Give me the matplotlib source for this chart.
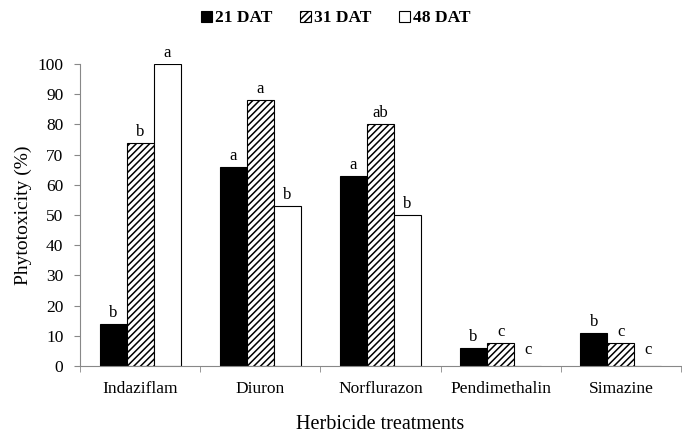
import numpy as np
import matplotlib
matplotlib.use('Agg')
import matplotlib.pyplot as plt

plt.rcParams['font.family'] = ['Liberation Serif', 'DejaVu Serif']
plt.rcParams['hatch.linewidth'] = 1.1

treatments = ['Indaziflam', 'Diuron', 'Norflurazon', 'Pendimethalin', 'Simazine']
dat21 = [14, 66, 63, 6, 11]
dat31 = [74, 88, 80, 7.5, 7.5]
dat48 = [100, 53, 50, 0, 0]
letters21 = ['b', 'a', 'a', 'b', 'b']
letters31 = ['b', 'a', 'ab', 'c', 'c']
letters48 = ['a', 'b', 'b', 'c', 'c']

fig = plt.figure(figsize=(6.82, 4.33), dpi=100)
ax = fig.add_axes([80 / 682, 67 / 433, 601 / 682, 302 / 433])

x = np.arange(len(treatments))
w = 0.225
series = [
    (dat21, letters21, dict(color='black', edgecolor='black'), '21 DAT'),
    (dat31, letters31, dict(color='white', edgecolor='black', hatch='/////'), '31 DAT'),
    (dat48, letters48, dict(color='white', edgecolor='black'), '48 DAT'),
]
for i, (vals, lets, style, lab) in enumerate(series):
    pos = x + (i - 1) * w
    ax.bar(pos, vals, w, linewidth=0.8, label=lab, **style)
    for p, v, l in zip(pos, vals, lets):
        off = 3 if v > 0 else 8
        ax.annotate(l, (p, v), xytext=(0, off / 1.39), textcoords='offset points',
                    ha='center', va='bottom', fontsize=12)

ax.set_xlim(-0.5, len(treatments) - 0.5)
ax.set_ylim(0, 100)
ax.set_yticks(range(0, 101, 10))
ax.set_xticks(x)
ax.set_xticklabels(treatments, fontsize=12.5)
ax.set_xticks(np.arange(-0.5, len(treatments)), minor=True)
ax.tick_params(axis='x', which='major', length=0, pad=11)
ax.tick_params(axis='x', which='minor', length=4, color='#888888')
ax.tick_params(axis='y', labelsize=12.5, length=4, pad=8, color='#888888')
for s in ['top', 'right']:
    ax.spines[s].set_visible(False)
for s in ['left', 'bottom']:
    ax.spines[s].set_color('#888888')
ax.set_ylabel('Phytotoxicity (%)', fontsize=14)
ax.set_xlabel('Herbicide treatments', fontsize=14.5, labelpad=13)

leg = ax.legend(loc='upper center', bbox_to_anchor=(0.426, 1.23), ncol=3, frameon=False,
                handlelength=0.6, handleheight=0.6, handletextpad=0.2, columnspacing=1.6,
                prop={'weight': 'bold', 'size': 12.5})

fig.savefig('out.png', dpi=100)
